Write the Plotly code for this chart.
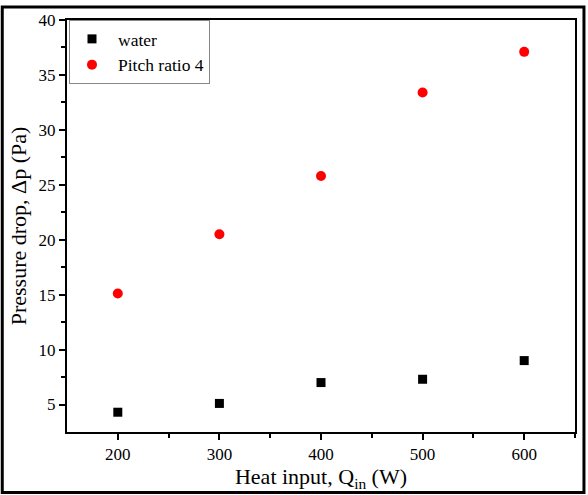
import plotly.graph_objects as go

heat_input = [200, 300, 400, 500, 600]
water_dp = [4.3, 5.1, 7.0, 7.3, 9.0]
pitch4_dp = [15.1, 20.5, 25.8, 33.4, 37.1]

FONT = "Liberation Serif"
W, H = 588, 495
L, R, T, B = 67, 11, 17, 63
pw, ph = W - L - R, H - T - B

fig = go.Figure()
fig.add_trace(go.Scatter(x=heat_input, y=water_dp, mode="markers", name="water",
                         marker=dict(symbol="square", color="black", size=9)))
fig.add_trace(go.Scatter(x=heat_input, y=pitch4_dp, mode="markers", name="Pitch ratio 4",
                         marker=dict(symbol="circle", color="red", size=10)))

def px2x(p):
    return (p - L) / pw

def px2y(p):
    return (H - B - p) / ph

fig.add_shape(type="rect", xref="paper", yref="paper",
              x0=px2x(2), x1=px2x(586), y0=px2y(493), y1=px2y(4),
              line=dict(color="black", width=3), fillcolor="rgba(0,0,0,0)")

axis_common = dict(showgrid=False, zeroline=False, showline=True, linecolor="black",
                   linewidth=2, mirror=True, ticks="outside", ticklen=6, tickwidth=2,
                   tickcolor="black", tickfont=dict(family=FONT, size=17, color="black"))

fig.update_xaxes(range=[150, 650], tickvals=[200, 300, 400, 500, 600],
                 minor=dict(tickvals=[250, 350, 450, 550, 650], ticks="outside",
                            ticklen=4, tickwidth=2, tickcolor="black"),
                 title=dict(text="Heat input, Q<sub>in</sub> (W)",
                            font=dict(family=FONT, size=22, color="black"), standoff=4),
                 **axis_common)
fig.update_yaxes(range=[2.5, 40], tickvals=[5, 10, 15, 20, 25, 30, 35, 40],
                 minor=dict(tickvals=[7.5, 12.5, 17.5, 22.5, 27.5, 32.5, 37.5],
                            ticks="outside", ticklen=4, tickwidth=2, tickcolor="black"),
                 title=dict(text="Pressure drop, Δp (Pa)",
                            font=dict(family=FONT, size=22, color="black"), standoff=6),
                 **axis_common)

fig.update_layout(
    width=W, height=H, margin=dict(l=L, r=R, t=T, b=B),
    paper_bgcolor="white", plot_bgcolor="white",
    font=dict(family=FONT, color="black"),
    legend=dict(x=px2x(69), y=px2y(17), xanchor="left", yanchor="top",
                bgcolor="white", bordercolor="#888888", borderwidth=1,
                font=dict(family=FONT, size=17.5, color="black"),
                tracegroupgap=0, itemwidth=42, indentation=-4),
    showlegend=True,
)

fig.write_html("out.html")
